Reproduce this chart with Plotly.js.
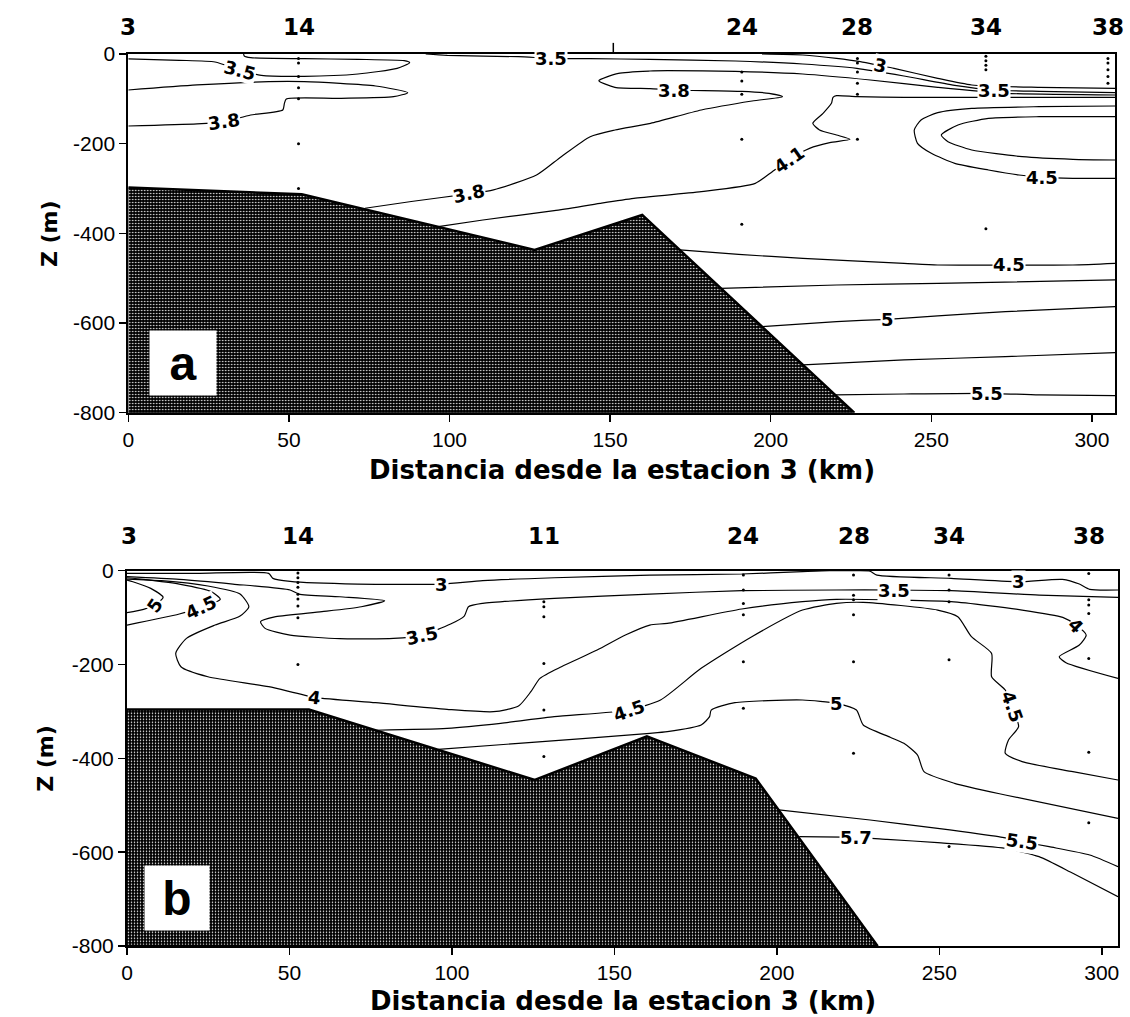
<!DOCTYPE html>
<html>
<head>
<meta charset="utf-8">
<script src="https://cdn.plot.ly/plotly-3.0.1.min.js"></script>
<style>html,body{margin:0;padding:0;background:#fff;}</style>
</head>
<body>
<div id="chart" style="width:1130px;height:1017px;"></div>
<script>
// ===== Section (a) =====
const stationNamesA = ['3', '14', '24', '28', '34', '38'];
const stationKmA    = [0, 53, 191, 227, 267, 305];
const unlabelledKmA = [151];
const castDepthsA = [
  [],
  [-10, -20, -50, -75, -100, -200, -300],
  [-40, -60, -90, -190, -380],
  [-10, -20, -40, -65, -90, -190],
  [-5, -15, -25, -35, -65, -90, -390],
  [-10, -20, -35, -50, -65]
];
const seabedKmA = [0, 54, 126.5, 160, 226];
const seabedZA  = [-298, -313, -437, -359, -800];

// isotherms of section (a): [km, depth m]
const isoA_35w = [[0,-11],[15.9,-14],[27,-17.8],[34.8,-35.7],[41.4,-47.6],[54.8,-49.8],[71.5,-44.6],[83.7,-32],[87.6,-19.3],[85.9,-14.9],[71.5,-11.9],[54.8,-10.4],[38.1,-8.2],[36.1,-4.5],[35.9,0]];
const isoA_38w = [[0,-80.3],[21.4,-69],[43.7,-61.7],[54.8,-61.7],[77,-71.4],[87,-86.2],[82.6,-95.2],[65.9,-98.9],[49.2,-100.4],[48.6,-110],[48.1,-125],[38.1,-136],[29.8,-151],[21.4,-156],[0,-160.6]];
const isoA_35e = [[92.6,0],[99.3,-3],[121.5,-6],[131.5,-9.7],[143.8,-10.4],[162.4,-11.9],[189,-15.6],[210,-22.3],[226.8,-32],[241.5,-49.1],[257.3,-69.9],[269.4,-80.3],[283.6,-83.3],[307.2,-86.2]];
const isoA_30  = [[197.3,0],[210,-2.2],[220.5,-9.7],[227.9,-17.1],[234.2,-26],[238.4,-32],[252,-54.3],[262.6,-69.1],[283.6,-74.3],[307.2,-76.6]];
const isoA_38e = [[307.2,-91.4],[273.1,-87.7],[252,-74.4],[231,-58],[210,-44.6],[189,-38.7],[167.9,-37.2],[162.4,-37.9],[152.6,-43.1],[146.5,-59.5],[151.5,-74.3],[162.4,-77.3],[170,-80.3],[191,-83.3],[199.5,-87.7],[203.7,-95.2],[194.2,-104.8],[178.4,-124.9],[162.6,-154.6],[151.5,-169.5],[143.8,-184.4],[134.8,-229],[127.1,-270],[113.7,-303],[106,-312],[88.1,-329],[73.7,-344]];
const isoA_41  = [[307.2,-96.6],[273.1,-96.6],[241.5,-96.6],[226.8,-95.2],[220.5,-92.9],[219.4,-96.6],[218.9,-110],[216.3,-132.3],[213.1,-154.6],[215.2,-169.5],[220.5,-180.7],[224.7,-190.3],[218.4,-197.7],[212.1,-210.4],[205.8,-234.9],[200.5,-262.4],[195.2,-288.5],[178.4,-307],[157.4,-321.9],[146.9,-333],[132.6,-349.4],[110.4,-370.2],[96.5,-385.1]];
const isoA_45r = [[307.2,-116],[283.6,-117.5],[262.6,-121.2],[252,-130.8],[246.8,-147.2],[244.7,-169.5],[245.7,-199.2],[250,-221.5],[257.3,-243.8],[267.8,-258.7],[277.3,-269.9],[284.6,-275.1],[294.1,-277.3],[307.2,-277.3]];
const isoA_core = [[307.2,-139.8],[283.6,-139.8],[267.8,-143.5],[258.3,-158.3],[253.1,-180.7],[255.2,-195.5],[262.6,-214.1],[278.3,-229],[294.1,-234.9],[307.2,-236.4]];
const isoA_45d = [[171.7,-437],[190,-447],[210,-455.7],[241.5,-466.9],[252,-470.6],[274.1,-470.6],[294.1,-470.6],[307.2,-466.9]];
const isoA_mid1 = [[184.5,-522.6],[220.5,-515.2],[252,-511.4],[307.2,-504]];
const isoA_50  = [[197.3,-608.1],[220.5,-596.9],[236.3,-591.7],[252,-584.3],[273.1,-574.6],[307.2,-563.5]];
const isoA_mid2 = [[210.1,-693.6],[241.5,-682.4],[273.1,-675],[307.2,-666.1]];
const isoA_55  = [[220,-760.5],[241.5,-758.3],[267.3,-756.8],[283.6,-760.5],[307.2,-762]];

// ===== Section (b) =====
const stationNamesB = ['3', '14', '11', '24', '28', '34', '38'];
const stationKmB    = [0.5, 52.6, 128.3, 189.7, 223.6, 253, 296];
const castDepthsB = [
  [],
  [-5, -15, -25, -35, -50, -60, -75, -100, -200],
  [-66, -77, -98, -198, -297, -396],
  [-9, -41, -70, -94, -194, -293],
  [-9, -52, -62, -94, -194, -389],
  [-9, -41, -66, -190, -588],
  [-6, -62, -73, -91, -187, -387, -537]
];
const seabedKmB = [0, 56, 125.5, 160, 193.5, 231];
const seabedZB  = [-296, -296, -446, -353, -443, -800];

const isoB_30  = [[0,-5.6],[21.6,-5.6],[43.6,-5.6],[44.9,-16.3],[50.2,-22.7],[71,-28.4],[96.9,-28.4],[109.5,-21.2],[131.5,-14.9],[160.9,-9.2],[189.2,-7],[207.9,-2],[216.2,0],[224.5,0],[228.7,-1],[230.8,-9.2],[253.6,-16.3],[274.4,-23.4],[287.9,-18.4],[293.1,-28.4],[296.3,-39.7],[305,-41.1]];
const isoB_35  = [[305,-56.8],[280.7,-51.8],[253.6,-42.6],[236,-41.1],[218.3,-41.1],[189.2,-42.6],[160.9,-49.7],[131.5,-58.9],[109.5,-69.6],[105.1,-76.7],[103.8,-96.6],[99.6,-113.6],[90.8,-137.1],[82,-144.2],[65.5,-144.9],[50.2,-137.1],[42.5,-122.9],[41.1,-108.6],[45.8,-98],[60,-87.3],[72.1,-76.7],[79.3,-63.9],[65.5,-55.4],[52.9,-49.7],[50.2,-41.1],[32.6,-28.4],[16.1,-18.4],[0,-12.7]];
const isoB_40  = [[0,-17.7],[10.6,-21.2],[24.9,-32.6],[34.8,-49.7],[37.5,-76.7],[34.8,-96.6],[27.1,-115.8],[18.3,-144.2],[15,-176.2],[16.6,-204.6],[24.9,-225.9],[43.6,-247.2],[57.8,-270],[76.5,-281.3],[98.5,-295.5],[112.8,-300.5],[120.5,-288.4],[124.3,-257.9],[127.1,-229.5],[133.7,-204.6],[144.7,-169.1],[153.4,-137.1],[160.9,-115.8],[166.3,-112.2],[189.2,-81.6],[207.9,-66],[218.3,-61],[253.6,-66],[275.5,-83.8],[288,-99.4],[292.1,-115.8],[295.2,-137.1],[293.1,-158.4],[286.9,-183.3],[289,-196],[305,-229.5]];
const isoB_45w = [[0,-115.8],[16.1,-92.3],[22.7,-78.1],[28.7,-61],[26,-44.7],[16.1,-28.4],[5.1,-18.4],[0,-14.9]];
const isoB_50w = [[0,-89.5],[5.1,-82.4],[8.4,-73.1],[11.1,-56.8],[7.3,-37.6],[1.8,-23.4],[0,-19.8]];
const isoB_45  = [[76.5,-340],[98.5,-336],[115,-325.3],[131.5,-311.1],[154.5,-296.9],[164.2,-275.6],[176.7,-208.1],[192.3,-140.6],[207.9,-83.8],[218.3,-69.6],[226.6,-67.4],[249.5,-83.8],[255.7,-98],[259.9,-140.6],[266.1,-176.2],[266.1,-225.9],[270.3,-254.3],[272.4,-289.9],[274.4,-332.5],[271.3,-360.9],[270.3,-389.3],[275.5,-407],[291.1,-428.4],[305,-446.1]];
const isoB_50  = [[95.8,-381],[120.5,-368],[160.9,-346.7],[166.3,-343.1],[176.7,-328.9],[179.3,-311.1],[179.8,-297],[187.1,-281.3],[207.9,-275.6],[218.3,-282.8],[224.5,-297],[226.6,-328.9],[234.9,-355],[239.1,-368],[243.3,-392.9],[245.3,-428.4],[254.7,-453.2],[270.3,-478.1],[305,-527.9]];
const isoB_55  = [[200.6,-510],[228.7,-531.4],[249.5,-549.2],[268.2,-567],[275.5,-577.6],[283.8,-588.3],[296.3,-606],[305,-630.9]];
const isoB_57  = [[206.9,-567],[224.5,-568.4],[233.9,-572.6],[249.5,-579.7],[270.3,-591.8],[280.7,-609.6],[291.1,-645.1],[305,-694.9]];

// contour sets: level, polyline and the points where the level is written
const contoursA = [
  {level: 3.5, line: isoA_35w, tags: [[34.8, -35.7]]},
  {level: 3.8, line: isoA_38w, tags: [[29.8, -151]]},
  {level: 3.5, line: isoA_35e, tags: [[131.5, -9.7], [269.4, -80.3]]},
  {level: 3,   line: isoA_30,  tags: [[234.2, -26]]},
  {level: 3.8, line: isoA_38e, tags: [[170, -80.3], [106, -312]]},
  {level: 4.1, line: isoA_41,  tags: [[205.8, -234.9]]},
  {level: 4.5, line: isoA_45r, tags: [[284.6, -275.1]]},
  {level: null, line: isoA_core, tags: []},
  {level: 4.5, line: isoA_45d, tags: [[274.1, -470.6]]},
  {level: null, line: isoA_mid1, tags: []},
  {level: 5,   line: isoA_50,  tags: [[236.3, -591.7]]},
  {level: null, line: isoA_mid2, tags: []},
  {level: 5.5, line: isoA_55,  tags: [[267.3, -756.8]]}
];
const contoursB = [
  {level: 3,   line: isoB_30,  tags: [[96.9, -28.4], [274.4, -23.4]]},
  {level: 3.5, line: isoB_35,  tags: [[236, -41.1], [90.8, -137.1]]},
  {level: 4,   line: isoB_40,  tags: [[57.8, -270], [292.1, -115.8]]},
  {level: 4.5, line: isoB_45w, tags: [[22.7, -78.1]]},
  {level: 5,   line: isoB_50w, tags: [[8.4, -73.1]]},
  {level: 4.5, line: isoB_45,  tags: [[154.5, -296.9], [272.4, -289.9]]},
  {level: 5,   line: isoB_50,  tags: [[218.3, -282.8]]},
  {level: 5.5, line: isoB_55,  tags: [[275.5, -577.6]]},
  {level: 5.7, line: isoB_57,  tags: [[224.5, -568.4]]}
];
// text rotation of each written level, in the order the tags appear above
const tagTiltA = [15, -8, 0, 0, 12, 0, -12, -35, 0, 0, 0, 0];
const tagTiltB = [0, 0, 0, -12, 8, 45, -25, -55, -20, 70, 0, 8, 0];

const depthTicks = [0, -200, -400, -600, -800];
const kmTicks = [0, 50, 100, 150, 200, 250, 300];

// ===== drawing =====
const traces = [];
const annotations = [];
const shapes = [];
const tagFont = {family: 'DejaVu Sans, Verdana, sans-serif', size: 18, color: '#000', weight: 700};

function addSection(cs, tilt, seabedKm, seabedZ, stKm, casts, xa, ya) {
  cs.forEach(c => {
    traces.push({
      type: 'scatter', mode: 'lines', xaxis: xa, yaxis: ya,
      x: c.line.map(p => p[0]), y: c.line.map(p => p[1]),
      line: {color: '#000', width: 1.2, shape: 'spline', smoothing: 0.6},
      hoverinfo: 'skip', showlegend: false
    });
  });
  let k = 0;
  cs.forEach(c => {
    c.tags.forEach(t => {
      annotations.push({
        xref: xa, yref: ya, x: t[0], y: t[1], text: String(c.level),
        showarrow: false, textangle: tilt[k++] || 0, font: tagFont,
        bgcolor: '#fff', borderpad: 0
      });
    });
  });
  // sea floor, dark stipple
  traces.push({
    type: 'scatter', mode: 'lines', xaxis: xa, yaxis: ya,
    x: seabedKm.concat([0]), y: seabedZ.concat([-800]),
    fill: 'toself', fillcolor: '#000',
    fillpattern: {shape: '.', bgcolor: '#000', fgcolor: '#fff', size: 3, solidity: 0.2},
    line: {color: '#000', width: 2.5}, hoverinfo: 'skip', showlegend: false
  });
  // sampling depths along each cast
  const dx = [], dy = [];
  casts.forEach((ds, i) => ds.forEach(d => { dx.push(stKm[i]); dy.push(d); }));
  traces.push({
    type: 'scatter', mode: 'markers', xaxis: xa, yaxis: ya, x: dx, y: dy,
    marker: {color: '#000', size: 3}, hoverinfo: 'skip', showlegend: false
  });
}

addSection(contoursA, tagTiltA, seabedKmA, seabedZA, stationKmA, castDepthsA, 'x', 'y');
addSection(contoursB, tagTiltB, seabedKmB, seabedZB, stationKmB, castDepthsB, 'x2', 'y2');

const stationFont = {family: 'DejaVu Sans, Verdana, sans-serif', size: 23, color: '#000', weight: 700};
stationNamesA.forEach((s, i) => annotations.push({
  xref: 'x', yref: 'y domain', x: stationKmA[i], y: 1, yshift: 27, yanchor: 'middle',
  text: s, showarrow: false, font: stationFont
}));
stationNamesB.forEach((s, i) => annotations.push({
  xref: 'x2', yref: 'y2 domain', x: stationKmB[i], y: 1, yshift: 35, yanchor: 'middle',
  text: s, showarrow: false, font: stationFont
}));
unlabelledKmA.forEach(k => shapes.push({
  type: 'line', xref: 'x', yref: 'y domain', x0: k, x1: k, y0: 1, y1: 1.031,
  line: {color: '#000', width: 1.5}
}));

// axis titles and panel letters
const titleFont = {family: 'DejaVu Sans, Verdana, sans-serif', size: 26, color: '#000', weight: 700};
const xTitle = 'Distancia desde la estacion 3 (km)';
annotations.push(
  {xref: 'x domain', yref: 'y domain', x: 0.5, y: 0, yshift: -57, yanchor: 'middle', text: xTitle, showarrow: false, font: titleFont},
  {xref: 'x2 domain', yref: 'y2 domain', x: 0.5, y: 0, yshift: -55, yanchor: 'middle', text: xTitle, showarrow: false, font: titleFont},
  {xref: 'x domain', yref: 'y domain', x: 0, xshift: -93, y: 0.5, textangle: -90, text: 'Z (m)', showarrow: false, font: Object.assign({}, titleFont, {size: 22})},
  {xref: 'x2 domain', yref: 'y2 domain', x: 0, xshift: -96, y: 0.5, textangle: -90, text: 'Z (m)', showarrow: false, font: Object.assign({}, titleFont, {size: 22})},
  {xref: 'x', yref: 'y', x: 17, y: -689, text: 'a', showarrow: false, width: 66, height: 64, bgcolor: '#fff', borderpad: 0,
   font: {family: 'Liberation Sans, Arial, sans-serif', size: 48, color: '#000', weight: 700}},
  {xref: 'x2', yref: 'y2', x: 15.5, y: -697.5, text: 'b', showarrow: false, width: 64, height: 64, bgcolor: '#fff', borderpad: 0,
   font: {family: 'Liberation Sans, Arial, sans-serif', size: 48, color: '#000', weight: 700}}
);

const tickFont = {family: 'Liberation Sans, Arial, sans-serif', size: 21, color: '#000'};
const axisBase = {
  showgrid: false, zeroline: false, showline: true, linecolor: '#000', linewidth: 2, mirror: true,
  ticks: 'outside', ticklen: 7, tickwidth: 1.5, tickcolor: '#000', tickfont: tickFont, fixedrange: true
};
const xAxis = (dom, rng, anchor) => Object.assign({}, axisBase, {
  domain: dom, range: rng, anchor: anchor, tickvals: kmTicks, ticktext: kmTicks.map(String)
});
const yAxis = (dom, anchor) => Object.assign({}, axisBase, {
  domain: dom, range: [-800, 0], anchor: anchor, tickvals: depthTicks, ticktext: depthTicks.map(String)
});

const layout = {
  width: 1130, height: 1017,
  margin: {l: 127, r: 12, t: 54, b: 71},
  paper_bgcolor: '#fff', plot_bgcolor: '#fff',
  showlegend: false,
  xaxis: xAxis([0.0013, 0.997], [0, 307.2], 'y'),
  yaxis: yAxis([0.5979, 1], 'x'),
  xaxis2: xAxis([0, 1], [0, 305], 'y2'),
  yaxis2: yAxis([0, 0.4207], 'x2'),
  annotations: annotations,
  shapes: shapes
};

Plotly.newPlot('chart', traces, layout, {displayModeBar: false, staticPlot: true});
</script>
</body>
</html>
